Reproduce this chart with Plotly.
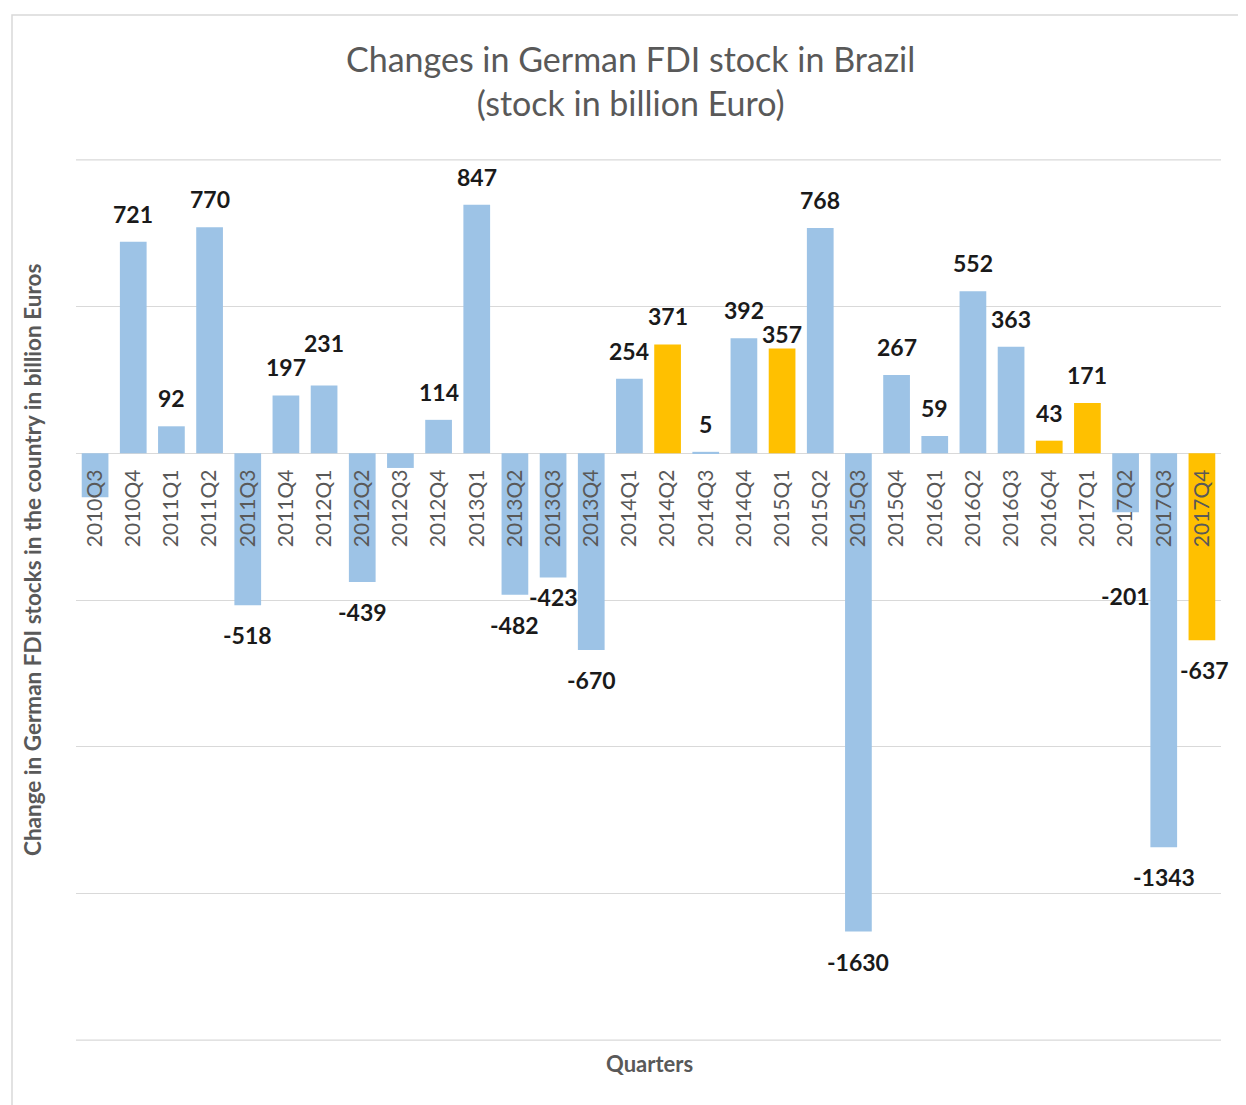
import plotly.graph_objects as go

quarters = ["2010Q3","2010Q4","2011Q1","2011Q2","2011Q3","2011Q4","2012Q1","2012Q2","2012Q3","2012Q4",
            "2013Q1","2013Q2","2013Q3","2013Q4","2014Q1","2014Q2","2014Q3","2014Q4","2015Q1","2015Q2",
            "2015Q3","2015Q4","2016Q1","2016Q2","2016Q3","2016Q4","2017Q1","2017Q2","2017Q3","2017Q4"]
values = [-150, 721, 92, 770, -518, 197, 231, -439, -50, 114,
          847, -482, -423, -670, 254, 371, 5, 392, 357, 768,
          -1630, 267, 59, 552, 363, 43, 171, -201, -1343, -637]
highlight = [False]*15 + [True] + [False]*2 + [True] + [False]*6 + [True, True] + [False]*2 + [True]
show_label = [False] + [True]*7 + [False] + [True]*21

BLUE = "#9DC3E6"
ORANGE = "#FFC000"
colors = [ORANGE if h else BLUE for h in highlight]

# label placement tweaks (pixels), styling only
label_shift = {"2012Q1": 43, "2015Q1": 15, "2013Q3": -20, "2017Q2": -84}
label_xshift = {"2017Q4": 3}

# page offset (body margin) = 8px
OFF = 8
W, H = 1246 - OFF, 1105 - OFF
PL, PR, PT, PB = 76, 1221, 159, 1041   # plot area in page pixels
pw, ph = PR - PL, PB - PT

def px(x):
    return (x - PL) / pw

def py(y):
    return (PB - y) / ph

fig = go.Figure()
fig.add_trace(go.Bar(
    x=quarters, y=values, marker=dict(color=colors, line=dict(width=0)),
    hoverinfo="x+y",
))

ymin, ymax = -2000, 1000
pad = 3
zero_paper = (0 - (ymin - pad)) / ((ymax + pad) - (ymin - pad))

annotations = []
for q, v, s in zip(quarters, values, show_label):
    if not s:
        continue
    shift = label_shift.get(q, 28 if v >= 0 else -30)
    annotations.append(dict(
        x=q, y=v, xref="x", yref="y", text=str(v), showarrow=False,
        xanchor="center", yanchor="middle", yshift=shift, xshift=label_xshift.get(q, 0),
        font=dict(family="Lato", size=23, color="#1a1a1a", weight="bold"),
    ))

annotations += [
    dict(text="Changes in German FDI stock in Brazil<br>(stock in billion Euro)",
         xref="paper", yref="paper", x=px(630), y=py(81),
         xanchor="center", yanchor="middle", showarrow=False,
         font=dict(family="Lato", size=34, color="#595959")),
    dict(text="Change in German FDI stocks in the country in billion Euros",
         xref="paper", yref="paper", x=px(32), y=py(560),
         xanchor="center", yanchor="middle", textangle=-90, showarrow=False,
         font=dict(family="Lato", size=22.5, color="#595959", weight="bold")),
    dict(text="Quarters",
         xref="paper", yref="paper", x=px(649), y=py(1063),
         xanchor="center", yanchor="middle", showarrow=False,
         font=dict(family="Lato", size=22, color="#595959", weight="bold")),
]

shapes = [
    dict(type="rect", xref="paper", yref="paper",
         x0=px(12), x1=px(1270), y0=py(1130), y1=py(15),
         line=dict(color="#D9D9D9", width=1.5), fillcolor="rgba(0,0,0,0)", layer="below"),
]
for gv in (ymin, ymax):
    shapes.append(dict(type="line", xref="paper", yref="y", x0=0, x1=1, y0=gv, y1=gv,
                       line=dict(color="#D9D9D9", width=1.3), layer="below"))

fig.update_layout(
    width=W, height=H,
    margin=dict(l=PL - OFF, r=W - (PR - OFF), t=PT - OFF, b=H - (PB - OFF)),
    paper_bgcolor="white", plot_bgcolor="white",
    bargap=0.3, showlegend=False,
    font=dict(family="Lato", color="#595959"),
    xaxis=dict(
        type="category", anchor="free", position=zero_paper,
        range=[-0.5, len(quarters) - 0.5], autorange=False,
        tickangle=-90, tickfont=dict(family="Lato", size=21, color="#595959"),
        showgrid=False, showline=False, ticks="", ticklabelstandoff=11,
    ),
    yaxis=dict(
        range=[ymin - pad, ymax + pad], autorange=False,
        tickvals=[-2000, -1500, -1000, -500, 0, 500, 1000],
        showticklabels=False,
        showgrid=True, gridcolor="#D9D9D9", gridwidth=1.3,
        zeroline=True, zerolinecolor="#D9D9D9", zerolinewidth=1.3, ticks="",
    ),
    annotations=annotations,
    shapes=shapes,
)

fig.write_html("out.html")
